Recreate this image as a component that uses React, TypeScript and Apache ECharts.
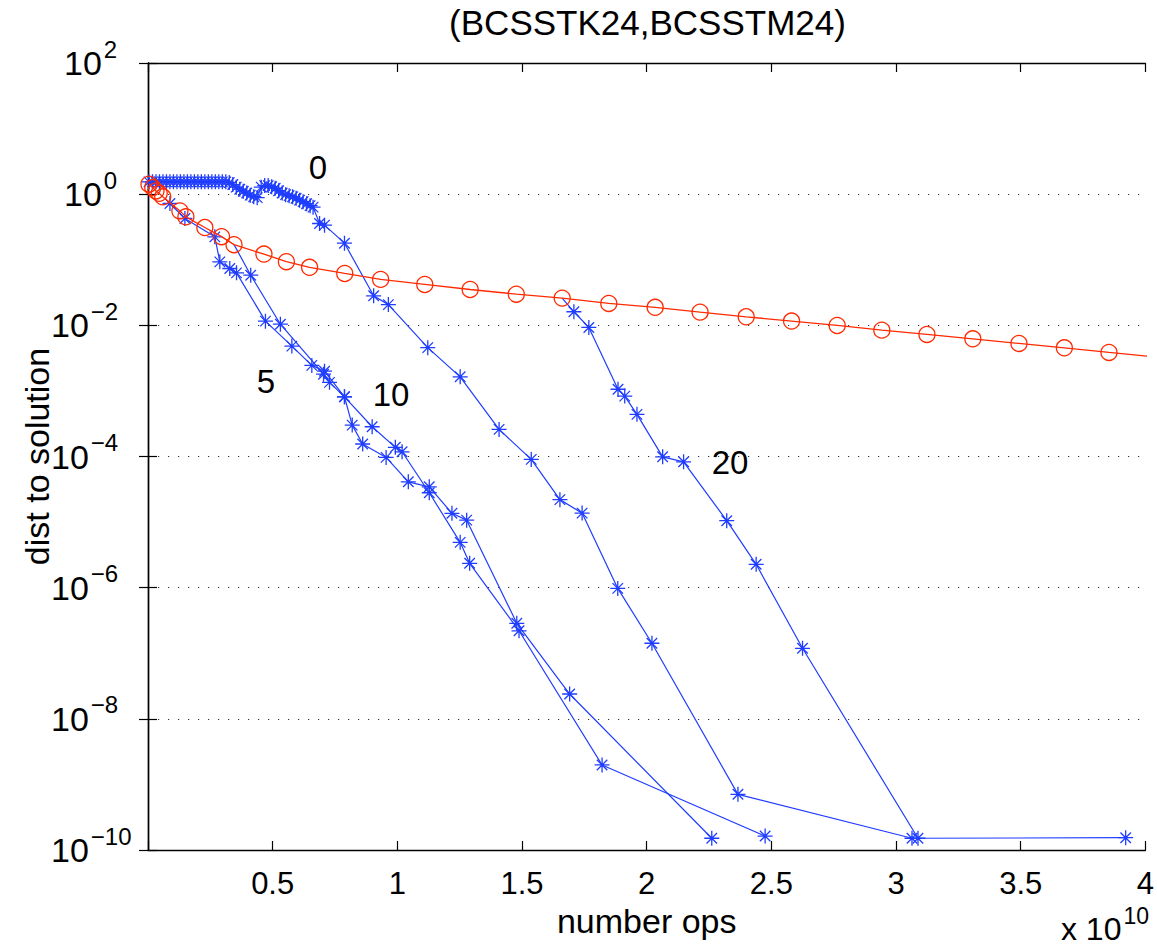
import React, { useEffect, useRef } from "react";
import * as echarts from "echarts";

// x values are in units of 1e10 operations
const redX = [0.004, 0.019, 0.032, 0.045, 0.059, 0.128, 0.152, 0.228, 0.295, 0.345, 0.465, 0.555, 0.648, 0.789, 0.933, 1.11, 1.292, 1.477, 1.661, 1.848, 2.034, 2.214, 2.399, 2.581, 2.764, 2.943, 3.124, 3.308, 3.493, 3.675, 3.854, 4.038];
const redY = [1.42, 1.26, 1.12, 1.03, 0.91, 0.556, 0.451, 0.31, 0.225, 0.17, 0.122, 0.0935, 0.0766, 0.0618, 0.0502, 0.042, 0.0352, 0.0299, 0.026, 0.0216, 0.0188, 0.0159, 0.0135, 0.0116, 0.00995, 0.00845, 0.00727, 0.00622, 0.0053, 0.00454, 0.00386, 0.0033];

const s0X = [0.004, 0.018, 0.032, 0.046, 0.06, 0.074, 0.088, 0.102, 0.116, 0.13, 0.144, 0.158, 0.172, 0.186, 0.2, 0.214, 0.228, 0.242, 0.256, 0.27, 0.284, 0.298, 0.312,
  0.326, 0.34, 0.354, 0.368, 0.382, 0.396, 0.41, 0.424, 0.438,
  0.454, 0.468, 0.482, 0.496, 0.51, 0.524, 0.538, 0.552, 0.566, 0.58, 0.594, 0.608, 0.622, 0.636, 0.65, 0.662,
  0.688, 0.708, 0.788, 0.905, 0.964, 1.122, 1.252, 1.408, 1.537, 1.652, 1.741, 1.884, 2.021, 2.366, 3.064];
const s0Y = [1.54, 1.54, 1.54, 1.54, 1.54, 1.54, 1.54, 1.54, 1.54, 1.54, 1.54, 1.54, 1.54, 1.54, 1.54, 1.54, 1.54, 1.54, 1.54, 1.54, 1.54, 1.54, 1.54,
  1.5, 1.4, 1.28, 1.19, 1.11, 1.04, 0.966, 0.916, 0.885,
  1.28, 1.35, 1.35, 1.3, 1.23, 1.13, 1.04, 0.983, 0.949, 0.916, 0.869, 0.811, 0.769, 0.716, 0.668, 0.634,
  0.357, 0.337, 0.179, 0.0282, 0.0207, 0.00457, 0.00164, 2.59e-4, 9.03e-5, 2.2e-5, 1.37e-5, 9.75e-7, 1.42e-7, 7.06e-10, 1.51e-10];

const s5X = [0.088, 0.148, 0.268, 0.288, 0.328, 0.355, 0.471, 0.577, 0.657, 0.708, 0.788, 0.819, 0.861, 0.955, 1.044, 1.128, 1.219, 1.278, 1.479, 1.691, 2.261];
const s5Y = [0.721, 0.426, 0.2235, 0.0929, 0.0736, 0.0631, 0.01159, 0.00482, 0.00245, 0.002, 8.13e-4, 3.01e-4, 1.55e-4, 9.69e-5, 4.11e-5, 3.45e-5, 1.36e-5, 1.07e-5, 2.86e-7, 2.39e-8, 1.51e-10];

const s10X = [0.345, 0.412, 0.531, 0.704, 0.728, 0.788, 0.899, 0.992, 1.019, 1.128, 1.252, 1.29, 1.488, 1.821, 2.475];
const s10Y = [0.17, 0.0582, 0.0104, 0.0018, 0.00135, 8.13e-4, 2.84e-4, 1.38e-4, 1.18e-4, 2.8e-5, 4.91e-6, 2.35e-6, 2.2e-7, 1.98e-9, 1.63e-10];

const s20X = [1.661, 1.708, 1.768, 1.885, 1.912, 1.961, 2.064, 2.148, 2.321, 2.439, 2.625, 3.088, 3.921];
const s20Y = [0.026, 0.0161, 0.00929, 0.00106, 8.33e-4, 4.39e-4, 9.89e-5, 8.3e-5, 1.05e-5, 2.27e-6, 1.19e-7, 1.51e-10, 1.54e-10];

const curveLabels = ["0", "5", "10", "20"];
const xTickLabels = ["0.5", "1", "1.5", "2", "2.5", "3", "3.5", "4"];

const FONT = "'Liberation Sans', Arial, Helvetica, sans-serif";
const BLUE = "#1f3dff";
const RED = "#ff2a00";
const STAR = "path://M10,0L10,20M0,10L20,10M3,3L17,17M3,17L17,3";

const zip = (xs: number[], ys: number[], skipFirst = false) =>
  xs.map((x, i) => (skipFirst && i === 0 ? { value: [x, ys[i]], symbol: "none" } : { value: [x, ys[i]] }));

const blueSeries = (name: string, data: any[]) => ({
  name,
  type: "line",
  data,
  symbol: STAR,
  symbolSize: 15,
  symbolKeepAspect: true,
  showSymbol: true,
  lineStyle: { color: BLUE, width: 1.2 },
  itemStyle: { color: "transparent", borderColor: BLUE, borderWidth: 1.3 },
  clip: true,
  z: 2,
});

const labelStyle = (x: number, y: number, text: string) => ({
  type: "text",
  x,
  y,
  style: { text, fontSize: 33, fontFamily: FONT, fill: "#000", textAlign: "center", textVerticalAlign: "middle" },
});

export default function App() {
  const ref = useRef<HTMLDivElement>(null);
  useEffect(() => {
    document.body.style.margin = "0";
    const chart = echarts.init(ref.current!, null, { renderer: "svg" });
    const axisCommon = {
      axisLine: { show: true, lineStyle: { color: "#000", width: 1.4 } },
      axisTick: { show: true, inside: true, length: 9, lineStyle: { color: "#000", width: 1.2 } },
    };
    const option: any = {
      animation: false,
      backgroundColor: "#fff",
      grid: { left: 148, right: 10, top: 63, bottom: 100 },
      xAxis: [
        {
          type: "value",
          min: 0,
          max: 4,
          interval: 0.5,
          position: "bottom",
          ...axisCommon,
          splitLine: { show: false },
          axisLabel: {
            color: "#000",
            fontSize: 31,
            fontFamily: FONT,
            margin: 18,
            formatter: (v: number) => {
              const i = Math.round(v / 0.5) - 1;
              return i >= 0 ? xTickLabels[i] : "";
            },
          },
          name: "number ops",
          nameLocation: "middle",
          nameGap: 43,
          nameTextStyle: { color: "#000", fontSize: 34, fontFamily: FONT },
        },
        {
          type: "value",
          min: 0,
          max: 4,
          interval: 0.5,
          position: "top",
          ...axisCommon,
          splitLine: { show: false },
          axisLabel: { show: false },
        },
      ],
      yAxis: [
        {
          type: "log",
          logBase: 100,
          min: 1e-10,
          max: 1e2,
          interval: 1,
          position: "left",
          ...axisCommon,
          splitLine: { show: true, lineStyle: { color: "#333", type: [1.2, 8.8], width: 1.2 } },
          axisLabel: {
            color: "#000",
            margin: 97,
            align: "left",
            formatter: (v: number) => {
              const e = Math.round(Math.log10(v));
              return e < 0 ? `{b|10}{e|\u2212${-e}}` : `{bp|10}{e|${e}}`;
            },
            rich: {
              b: { fontSize: 34, fontFamily: FONT, color: "#000" },
              bp: { fontSize: 34, fontFamily: FONT, color: "#000", padding: [0, 0, 0, 13] },
              e: { fontSize: 24, fontFamily: FONT, color: "#000", padding: [0, 0, 28, 2] },
            },
          },
          name: "dist to solution",
          nameLocation: "middle",
          nameGap: 94,
          nameRotate: 90,
          nameMoveOverlap: false,
          nameTextStyle: { color: "#000", fontSize: 34, fontFamily: FONT },
        },
        {
          type: "log",
          logBase: 100,
          min: 1e-10,
          max: 1e2,
          interval: 1,
          position: "right",
          ...axisCommon,
          splitLine: { show: false },
          axisLabel: { show: false },
        },
      ],
      series: [
        blueSeries(curveLabels[0], zip(s0X, s0Y)),
        blueSeries(curveLabels[1], zip(s5X, s5Y)),
        blueSeries(curveLabels[2], zip(s10X, s10Y, true)),
        blueSeries(curveLabels[3], zip(s20X, s20Y, true)),
        {
          name: "base",
          type: "line",
          data: zip(redX, redY),
          symbol: "circle",
          symbolSize: 16,
          lineStyle: { color: RED, width: 1.3 },
          itemStyle: { color: "transparent", borderColor: RED, borderWidth: 1.3 },
          clip: true,
          z: 3,
        },
      ],
      graphic: [
        {
          type: "text",
          x: 647.5,
          y: 22,
          style: { text: "(BCSSTK24,BCSSTM24)", fontSize: 35, fontFamily: FONT, fill: "#000", textAlign: "center", textVerticalAlign: "middle" },
        },
        {
          type: "text",
          x: 1149,
          y: 929,
          style: {
            text: "{a|x 10}{s|10}",
            rich: {
              a: { fontSize: 32, fontFamily: FONT, fill: "#000" },
              s: { fontSize: 23, fontFamily: FONT, fill: "#000", padding: [0, 0, 26, 2] },
            },
            textAlign: "right",
            textVerticalAlign: "middle",
          },
        },
        labelStyle(318, 167, curveLabels[0]),
        labelStyle(266, 381, curveLabels[1]),
        labelStyle(391, 394, curveLabels[2]),
        labelStyle(730, 462, curveLabels[3]),
      ],
    };
    chart.setOption(option);
    return () => chart.dispose();
  }, []);
  return <div ref={ref} style={{ width: 1157, height: 950, overflow: "hidden" }} />;
}
